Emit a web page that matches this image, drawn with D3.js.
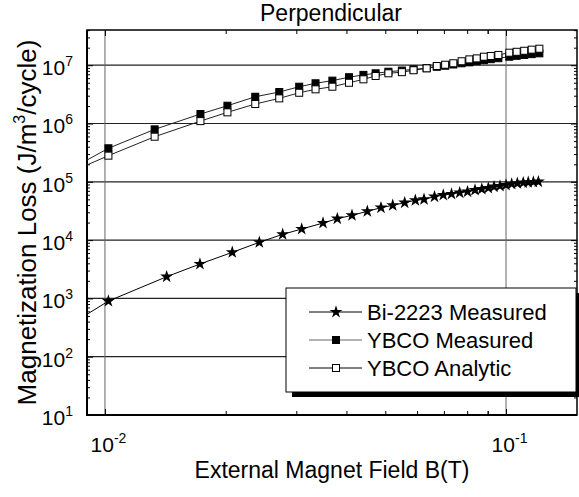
<!DOCTYPE html>
<html>
<head>
<meta charset="utf-8">
<script src="https://cdn.jsdelivr.net/npm/d3@7"></script>
<style>
    body { margin: 0; background: #fff; }
    svg { display: block; font-family: "Liberation Sans", Arial, sans-serif; }
</style>
</head>
<body>
<svg></svg>
<script>
const
    margin = {
        top: 30,
        right: 2,
        bottom: 82,
        left: 87
    },
    width = 579,
    height = 497

// Bi-2223 measured (first point lies left of the axis, only its line shows)
const biField = [0.0085, 0.0102, 0.01425, 0.01725, 0.02077, 0.02426, 0.02774, 0.03094, 0.03497, 0.03796,
    0.0413, 0.0451, 0.04878, 0.05218, 0.05589, 0.05941, 0.06245, 0.06632, 0.06975, 0.07312,
    0.07664, 0.08017, 0.08369, 0.08702, 0.09033, 0.09334, 0.0966, 0.1, 0.1033, 0.1067,
    0.1104, 0.1136, 0.117, 0.1204]
const biLoss = [415, 900, 2356, 3890, 6170, 9170, 12560, 15500, 19640, 23290,
    26600, 31200, 35950, 39540, 43850, 48170, 50100, 55500, 59400, 61800,
    65100, 67700, 72300, 75200, 78300, 82400, 84700, 88100, 91700, 94300,
    96500, 98000, 99300, 100500]

// YBCO
const ybcoField = [0.008, 0.0102, 0.0133, 0.0173, 0.0202, 0.0237, 0.0272, 0.0305, 0.0335, 0.0369,
    0.0406, 0.0441, 0.0473, 0.0509, 0.055, 0.0588, 0.0634, 0.0672, 0.0705, 0.0739,
    0.0775, 0.081, 0.0845, 0.0881, 0.0916, 0.0957, 0.1019, 0.1063, 0.111, 0.1159, 0.1211]
const ybcoMeasured = [1.5e5, 3.76e5, 7.94e5, 1.455e6, 2.02e6, 2.88e6, 3.47e6, 4.28e6, 4.9e6, 5.44e6,
    6.23e6, 6.83e6, 7.27e6, 7.74e6, 8.1e6, 8.5e6, 8.9e6, 9.4e6, 9.8e6, 1.03e7,
    1.08e7, 1.12e7, 1.17e7, 1.22e7, 1.27e7, 1.32e7, 1.4e7, 1.45e7, 1.5e7, 1.55e7, 1.6e7]
const ybcoAnalytic = [1.36e5, 2.81e5, 5.94e5, 1.1e6, 1.556e6, 2.16e6, 2.7e6, 3.37e6, 3.86e6, 4.28e6,
    5.0e6, 5.73e6, 6.53e6, 7.27e6, 7.6e6, 8.2e6, 8.85e6, 9.69e6, 1.02e7, 1.08e7,
    1.17e7, 1.26e7, 1.31e7, 1.4e7, 1.44e7, 1.5e7, 1.64e7, 1.7e7, 1.77e7, 1.85e7, 1.92e7]

const xTicks = [0.01, 0.1]
const xTickLabels = [["10", "-2"], ["10", "-1"]]
const yTicks = [1e1, 1e2, 1e3, 1e4, 1e5, 1e6, 1e7]
const yTickLabels = ["1", "2", "3", "4", "5", "6", "7"]
const legendLabels = ["Bi-2223 Measured", "YBCO Measured", "YBCO Analytic"]

const bi = biField.map((b, i) => ({ b, v: biLoss[i] }))
const meas = ybcoField.map((b, i) => ({ b, v: ybcoMeasured[i] }))
const anal = ybcoField.map((b, i) => ({ b, v: ybcoAnalytic[i] }))

const x = d3.scaleLog()
    .domain([0.00902, 0.1503])
    .range([margin.left, width - margin.right])

const y = d3.scaleLog()
    .domain([10, 4.02e7])
    .range([height - margin.bottom, margin.top])

const xMinor = []
for (const d of [0.01, 0.1]) for (let k = 2; k < 10; k++) {
    const v = d * k
    if (v >= x.domain()[0] && v <= x.domain()[1]) xMinor.push(v)
}
xMinor.push(0.09)
const yMinor = []
for (let e = 1; e < 8; e++) for (let k = 2; k < 10; k++) {
    const v = k * Math.pow(10, e)
    if (v <= y.domain()[1]) yMinor.push(v)
}

const line = d3.line().x(d => x(d.b)).y(d => y(d.v))

function supLabel(sel, labels) {
    sel.selectAll(".tick text").each(function (d, i) {
        const t = d3.select(this).text(null)
        t.append("tspan").text(labels[i][0])
        t.append("tspan").attr("dy", -9).attr("font-size", 14).text(labels[i][1])
    })
}

function render() {
    const svg = d3.select("svg")
        .attr("width", width)
        .attr("height", height)
        .attr("viewBox", [0, 0, width, height])

    svg.append("defs").append("clipPath").attr("id", "clip")
        .append("rect")
        .attr("x", margin.left).attr("y", margin.top)
        .attr("width", width - margin.left - margin.right)
        .attr("height", height - margin.top - margin.bottom)

    // grid
    const grid = svg.append("g").attr("class", "grid")
    grid.selectAll("line.h")
        .data(yTicks.slice(1))
        .join("line")
        .attr("class", "h")
        .attr("x1", margin.left).attr("x2", width - margin.right)
        .attr("y1", d => y(d)).attr("y2", d => y(d))
        .attr("stroke", "#222").attr("stroke-width", 1.2)
    grid.selectAll("line.v")
        .data(xTicks)
        .join("line")
        .attr("class", "v")
        .attr("y1", margin.top).attr("y2", height - margin.bottom)
        .attr("x1", d => x(d)).attr("x2", d => x(d))
        .attr("stroke", "#666").attr("stroke-width", 1)

    // axes, ticks inside
    const bottom = svg.append("g")
        .attr("transform", `translate(0,${height - margin.bottom})`)
        .call(d3.axisBottom(x).tickValues(xTicks).tickSize(-6).tickPadding(22).tickSizeOuter(0))
        .attr("font-family", null).attr("font-size", 21)
    bottom.select(".domain").remove()
    bottom.selectAll(".tick text").attr("dx", 3)
    supLabel(bottom, xTickLabels)
    svg.append("g")
        .attr("transform", `translate(0,${height - margin.bottom})`)
        .call(d3.axisBottom(x).tickValues(xMinor).tickSize(-4).tickFormat("").tickSizeOuter(0))
        .call(g => g.select(".domain").remove())
    svg.append("g")
        .attr("transform", `translate(0,${margin.top})`)
        .call(d3.axisTop(x).tickValues(xTicks).tickSize(-6).tickFormat("").tickSizeOuter(0))
        .call(g => g.select(".domain").remove())
    svg.append("g")
        .attr("transform", `translate(0,${margin.top})`)
        .call(d3.axisTop(x).tickValues(xMinor).tickSize(-4).tickFormat("").tickSizeOuter(0))
        .call(g => g.select(".domain").remove())

    const left = svg.append("g")
        .attr("transform", `translate(${margin.left},0)`)
        .call(d3.axisLeft(y).tickValues(yTicks).tickSize(-6).tickPadding(14).tickSizeOuter(0))
        .attr("font-family", null).attr("font-size", 21)
    left.select(".domain").remove()
    left.selectAll(".tick text").attr("dy", "0.45em")
    supLabel(left, yTickLabels.map(e => ["10", e]))
    svg.append("g")
        .attr("transform", `translate(${margin.left},0)`)
        .call(d3.axisLeft(y).tickValues(yMinor).tickSize(-3).tickFormat("").tickSizeOuter(0))
        .call(g => g.select(".domain").remove())
    svg.append("g")
        .attr("transform", `translate(${width - margin.right},0)`)
        .call(d3.axisRight(y).tickValues(yTicks).tickSize(-6).tickFormat("").tickSizeOuter(0))
        .call(g => g.select(".domain").remove())
    svg.append("g")
        .attr("transform", `translate(${width - margin.right},0)`)
        .call(d3.axisRight(y).tickValues(yMinor).tickSize(-3).tickFormat("").tickSizeOuter(0))
        .call(g => g.select(".domain").remove())
    svg.selectAll(".tick line").attr("stroke", "#000")

    // frame
    svg.append("rect")
        .attr("x", margin.left).attr("y", margin.top)
        .attr("width", width - margin.left - margin.right)
        .attr("height", height - margin.top - margin.bottom)
        .attr("fill", "none").attr("stroke", "#000").attr("stroke-width", 1.5)
    svg.append("path")
        .attr("d", `M${margin.left},${margin.top}V${height - margin.bottom}H${width - margin.right}`)
        .attr("fill", "none").attr("stroke", "#000").attr("stroke-width", 2)

    // series
    const plot = svg.append("g").attr("clip-path", "url(#clip)")
    for (const [data, col] of [[meas, "#222"], [anal, "#222"], [bi, "#000"]]) {
        plot.append("path")
            .datum(data)
            .attr("d", line)
            .attr("fill", "none")
            .attr("stroke", col)
            .attr("stroke-width", 1)
    }
    plot.append("g").selectAll("rect")
        .data(meas)
        .join("rect")
        .attr("x", d => x(d.b) - 3.5).attr("y", d => y(d.v) - 3.5)
        .attr("width", 7).attr("height", 7)
        .attr("fill", "#000").attr("stroke", "#000")
    plot.append("g").selectAll("rect")
        .data(anal)
        .join("rect")
        .attr("x", d => x(d.b) - 3.5).attr("y", d => y(d.v) - 3.5)
        .attr("width", 7).attr("height", 7)
        .attr("fill", "#fff").attr("stroke", "#000").attr("stroke-width", 1)
    const star = d3.symbol().type(d3.symbolStar).size(52)
    plot.append("g").selectAll("path")
        .data(bi)
        .join("path")
        .attr("transform", d => `translate(${x(d.b)},${y(d.v)})`)
        .attr("d", star)
        .attr("fill", "#000")

    // legend
    const lg = svg.append("g").attr("transform", "translate(286,288)")
    lg.append("rect").attr("x", 6).attr("y", 5).attr("width", 290).attr("height", 104).attr("fill", "#000")
    lg.append("rect").attr("width", 290).attr("height", 104)
        .attr("fill", "#fff").attr("stroke", "#000").attr("stroke-width", 1)
    legendLabels.forEach((name, i) => {
        const cy = 24 + i * 28
        const row = lg.append("g").attr("transform", `translate(0,${cy})`)
        row.append("line").attr("x1", 23).attr("x2", 76).attr("stroke", i === 1 ? "#666" : "#000")
        if (i === 0) {
            row.append("path").attr("d", star).attr("transform", "translate(50,0)").attr("fill", "#000")
        } else {
            row.append("rect").attr("x", 46.5).attr("y", -3.5).attr("width", 7).attr("height", 7)
                .attr("fill", i === 1 ? "#000" : "#fff").attr("stroke", "#000")
        }
        row.append("text").attr("x", 81).attr("y", 8).attr("font-size", 22).text(name)
    })

    // titles
    svg.append("text")
        .attr("x", 331).attr("y", 21)
        .attr("text-anchor", "middle").attr("font-size", 23)
        .text("Perpendicular")
    svg.append("text")
        .attr("x", 332).attr("y", 478)
        .attr("text-anchor", "middle").attr("font-size", 23)
        .text("External Magnet Field B(T)")
    const yl = svg.append("text")
        .attr("transform", `translate(36,${(margin.top + height - margin.bottom) / 2}) rotate(-90)`)
        .attr("text-anchor", "middle").attr("font-size", 26)
    yl.append("tspan").text("Magnetization Loss (J/m")
    yl.append("tspan").attr("dy", -11).attr("font-size", 16).text("3")
    yl.append("tspan").attr("dy", 11).text("/cycle)")
}

render()
</script>
</body>
</html>
